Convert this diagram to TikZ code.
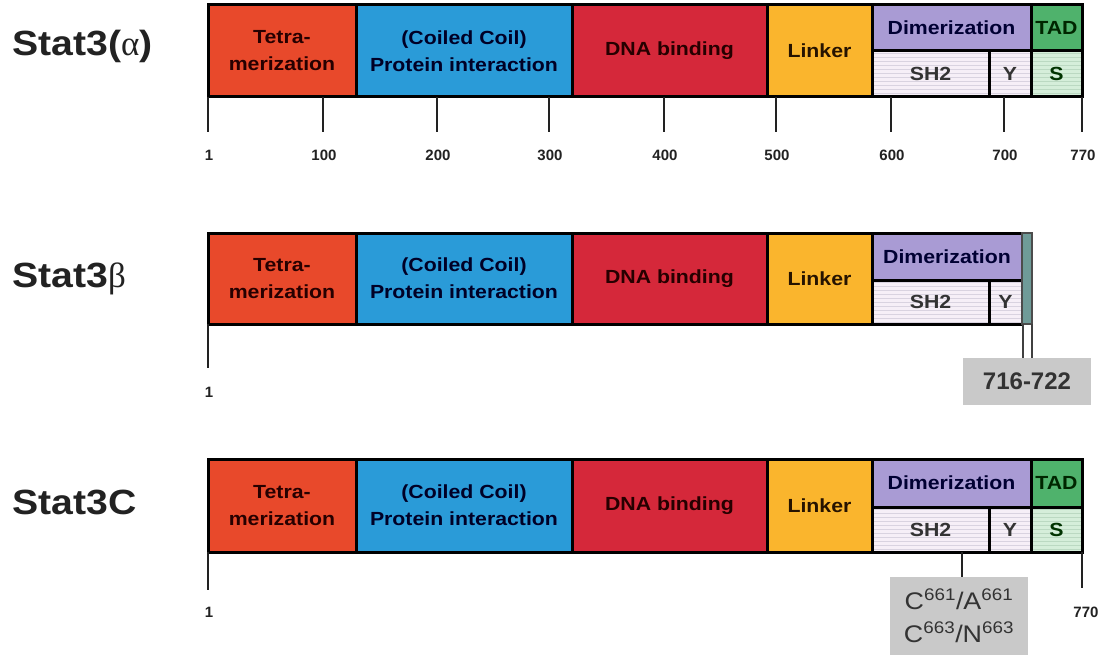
\documentclass[tikz,border=0pt]{standalone}
\usepackage{fontspec}
\setmainfont{Liberation Sans}
\newfontfamily\domfont[FakeStretch=1.12]{Liberation Sans}
\newfontfamily\grk{Liberation Serif}
\definecolor{ctetra}{HTML}{E8492B}
\definecolor{ccc}{HTML}{2A9BD8}
\definecolor{cdna}{HTML}{D5283A}
\definecolor{clink}{HTML}{FAB52D}
\definecolor{cdim}{HTML}{A99BD4}
\definecolor{csh}{HTML}{F6EFF7}
\definecolor{cshl}{HTML}{D9D3E0}
\definecolor{ctad}{HTML}{4FB26C}
\definecolor{cs}{HTML}{D5EEDA}
\definecolor{csl}{HTML}{BBD9C2}
\definecolor{cbeta}{HTML}{6F9B98}
\definecolor{cgrey}{HTML}{C9C9C9}
\definecolor{ink}{HTML}{222222}
\tikzset{
  dom/.style={draw=black, line width=3pt, inner sep=0pt, align=center,
    font={\domfont\bfseries\fontsize{19}{27}\selectfont}},
  stripes/.style={path picture={\foreach \k in {2,6,...,62}{\draw[#1,line width=0.9pt]
      ([yshift=-\k pt]path picture bounding box.north west) -- ([yshift=-\k pt]path picture bounding box.north east);}}},
  tick/.style={draw=ink, line width=2.6pt},
  num/.style={inner sep=0pt, text=ink, font={\bfseries\fontsize{15}{18}\selectfont}},
  rowlabel/.style={anchor=west, inner sep=0pt, text=ink, font={\domfont\bfseries\fontsize{35}{40}\selectfont}},
  gbox/.style={fill=cgrey, inner sep=0pt, align=center, text=black!80}
}
\newcommand\dom[7]{%
  \node[dom,#6,minimum width={#4-#2},minimum height={#5-#3}] (#1) at ({(#2+#4)/2},{(#3+#5)/2}) {#7};}
\newcommand\baserow[3]{% prefix, top, bottom
  \dom{#1tetra}{208}{#2}{356}{#3}{fill=ctetra,text=black!85!red}{Tetra-\\merization}
  \dom{#1cc}{356}{#2}{572}{#3}{fill=ccc,text=black!85!blue}{(Coiled Coil)\\Protein interaction}
  \dom{#1dna}{572}{#2}{767}{#3}{fill=cdna,text=black!85!red}{DNA binding}
  \dom{#1link}{767}{#2}{872}{#3}{fill=clink,text=black!85!orange}{Linker}}
\begin{document}
\begin{tikzpicture}[x=1pt,y=-1pt]
\useasboundingbox[fill=white] (0,0) rectangle (1109,661);

% ---------- Row 1: Stat3(alpha)
\node[rowlabel] (la) at (12,46) {Stat3({\grk\mdseries α})};
\baserow{a}{5}{97}
\dom{adim}{872}{5}{1031}{51}{fill=cdim,text=black!80!blue}{Dimerization}
\dom{ash}{872}{51}{989}{97}{fill=csh,stripes=cshl,text=black!80}{SH2}
\dom{ay}{989}{51}{1031}{97}{fill=csh,stripes=cshl,text=black!80}{Y}
\dom{atad}{1031}{5}{1082}{51}{fill=ctad,text=black!85!green}{TAD}
\dom{as}{1031}{51}{1082}{97}{fill=cs,stripes=csl,text=black!80!green}{S}
\foreach \n/\x in {1/208,100/323,200/437,300/549,400/664,500/776,600/891,700/1004,770/1082}{
  \coordinate (ta\n) at (\x,97);
  \coordinate (tb\n) at (\x,132);
  \draw[tick] (ta\n) -- (tb\n);
  \node[num] (na\n) at (\x+1,155) {\n};
}

% ---------- Row 2: Stat3beta
\node[rowlabel] (lb) at (12,279) {Stat3{\grk\mdseries β}};
\baserow{b}{233}{324}
\dom{bdim}{872}{233}{1022}{280}{fill=cdim,text=black!80!blue}{Dimerization}
\dom{bsh}{872}{280}{989}{324}{fill=csh,stripes=cshl,text=black!80}{SH2}
\dom{by}{989}{280}{1022}{324}{fill=csh,stripes=cshl,text=black!80}{Y}
\node[fill=cbeta, draw=black!70, line width=1.5pt, minimum width=10, minimum height=91, inner sep=0pt] (bbeta) at (1027,278.5) {};
\coordinate (tb1a) at (208,324);
\coordinate (tb1b) at (208,368);
\draw[tick] (tb1a) -- (tb1b);
\node[num] (nb1) at (209,392) {1};
\node[gbox, minimum width=128, minimum height=47, font={\bfseries\fontsize{24}{28}\selectfont}] (b716) at (1027,381.5) {716-722};
\coordinate (bl1) at (1023,324);
\coordinate (bl2) at (1032,324);
\draw[draw=black!75, line width=2pt] (bl1) -- (bl1 |- b716.north);
\draw[draw=black!75, line width=2pt] (bl2) -- (bl2 |- b716.north);

% ---------- Row 3: Stat3C
\node[rowlabel] (lc) at (12,502) {Stat3C};
\baserow{c}{459}{552}
\dom{cdim}{872}{459}{1031}{507}{fill=cdim,text=black!80!blue}{Dimerization}
\dom{csh}{872}{507}{989}{552}{fill=csh,stripes=cshl,text=black!80}{SH2}
\dom{cy}{989}{507}{1031}{552}{fill=csh,stripes=cshl,text=black!80}{Y}
\dom{ctad}{1031}{459}{1082}{507}{fill=ctad,text=black!85!green}{TAD}
\dom{cs}{1031}{507}{1082}{552}{fill=cs,stripes=csl,text=black!80!green}{S}
\coordinate (tc1a) at (208,552);
\coordinate (tc1b) at (208,590);
\draw[tick] (tc1a) -- (tc1b);
\node[num] (nc1) at (209,612) {1};
\coordinate (tc7a) at (1082,552);
\coordinate (tc7b) at (1082,588);
\draw[tick] (tc7a) -- (tc7b);
\node[num] (nc770) at (1086,612) {770};
\node[gbox, minimum width=138, minimum height=78, font={\domfont\fontsize{24}{33}\selectfont}] (mut) at (959,616)
  {C\textsuperscript{661}/A\textsuperscript{661}\\C\textsuperscript{663}/N\textsuperscript{663}};
\coordinate (csht) at (962,552);
\draw[tick] (csht) -- (csht |- mut.north);
\end{tikzpicture}
\end{document}
